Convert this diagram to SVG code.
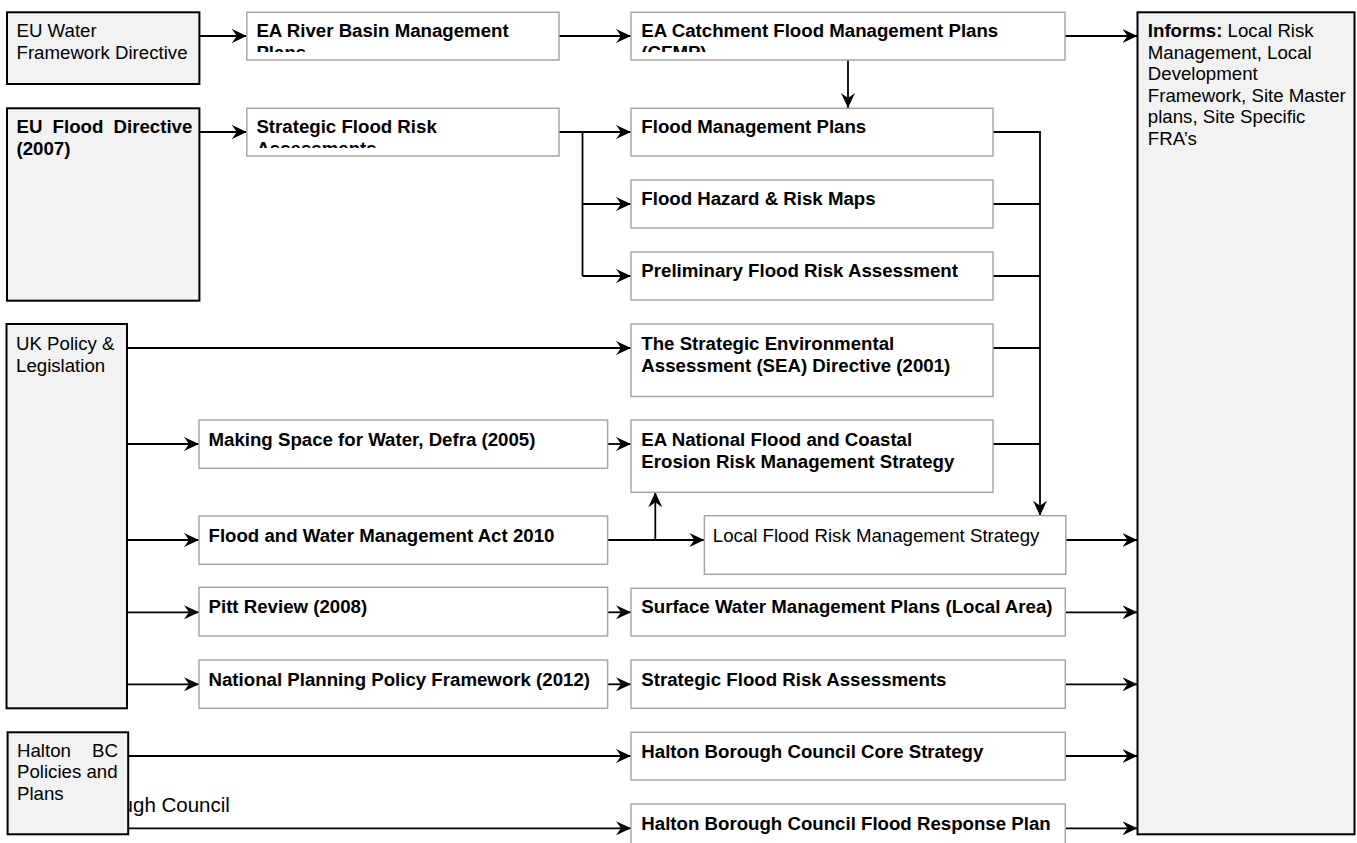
<svg xmlns="http://www.w3.org/2000/svg" width="1357" height="843" viewBox="0 0 1357 843">
<style>
  text { font-family: "Liberation Sans", Arial, sans-serif; font-size: 18.67px; fill: #000; }
  .b { font-weight: bold; }
  .big { font-size: 20.5px; }
  .dark { fill: #f2f2f2; stroke: #000; stroke-width: 2; }
  .box { fill: #fff; stroke: #a6a6a6; stroke-width: 1.5; }
  .ln { fill: none; stroke: #000; stroke-width: 1.8; }
  .ar { fill: none; stroke: #000; stroke-width: 1.8; marker-end: url(#arr); }
</style>
<defs>
  <marker id="arr" viewBox="0 0 15 14" refX="15" refY="7" markerWidth="15" markerHeight="14" markerUnits="userSpaceOnUse" orient="auto">
    <path d="M0,0 L15,7 L0,14 L5,7 z" fill="#000"/>
  </marker>
  <clipPath id="c1"><rect x="246" y="12" width="314" height="40"/></clipPath>
  <clipPath id="c2"><rect x="246" y="108" width="314" height="40"/></clipPath>
  <clipPath id="c3"><rect x="631" y="12" width="435" height="40"/></clipPath>
</defs>
<rect width="1357" height="843" fill="#fff"/>

<g id="halton-council-label">
  <text class="big" x="121.6" y="811.7">ugh Council</text>
</g>

<g id="connectors">
  <path class="ar" d="M199.4,36 H246.8"/>
  <path class="ar" d="M559,36 H631"/>
  <path class="ar" d="M1065,36 H1137.5"/>
  <path class="ar" d="M848,60 V108"/>
  <path class="ar" d="M199.4,132 H246.8"/>
  <path class="ar" d="M559,132 H631"/>
  <path class="ln" d="M582.5,132 V276"/>
  <path class="ar" d="M582.5,204 H631"/>
  <path class="ar" d="M582.5,276 H631"/>
  <path class="ln" d="M993,132 H1040"/>
  <path class="ln" d="M993,204 H1040"/>
  <path class="ln" d="M993,276 H1040"/>
  <path class="ln" d="M993,348 H1040"/>
  <path class="ln" d="M993,444 H1040"/>
  <path class="ar" d="M1040,131.1 V515.7"/>
  <path class="ar" d="M127,348 H631"/>
  <path class="ar" d="M127,444 H199"/>
  <path class="ar" d="M607.6,444 H631"/>
  <path class="ar" d="M127,540 H199"/>
  <path class="ar" d="M607.6,540 H704.4"/>
  <path class="ar" d="M655.3,540 V492.3"/>
  <path class="ar" d="M1066,540 H1137.5"/>
  <path class="ar" d="M127,612.3 H199"/>
  <path class="ar" d="M607.6,612.3 H631"/>
  <path class="ar" d="M1065,612.3 H1137.5"/>
  <path class="ar" d="M127,684.3 H199"/>
  <path class="ar" d="M607.6,684.3 H631"/>
  <path class="ar" d="M1065,684.3 H1137.5"/>
  <path class="ar" d="M128,756 H631"/>
  <path class="ar" d="M1065,756 H1137.5"/>
  <path class="ar" d="M128,828.3 H631"/>
  <path class="ar" d="M1065,828.3 H1137.5"/>
</g>

<g id="eu-water">
  <rect class="dark" x="7" y="12.3" width="192.4" height="71.7"/>
  <text x="16.5" y="37">EU Water</text>
  <text x="16.5" y="59">Framework Directive</text>
</g>
<g id="eu-flood">
  <rect class="dark" x="7" y="108.3" width="192.4" height="192.4"/>
  <text class="b" x="16.5" y="133" word-spacing="5">EU Flood Directive</text>
  <text class="b" x="16.5" y="155">(2007)</text>
</g>
<g id="uk-policy">
  <rect class="dark" x="6.5" y="324" width="120.5" height="384.3"/>
  <text x="16" y="350">UK Policy &amp;</text>
  <text x="16" y="371.7">Legislation</text>
</g>
<g id="halton-bc">
  <rect class="dark" x="7.6" y="732.3" width="120.6" height="102"/>
  <text x="17" y="756.7" word-spacing="16">Halton BC</text>
  <text x="17" y="778.3">Policies and</text>
  <text x="17" y="800">Plans</text>
</g>

<g id="ea-river-basin">
  <rect class="box" x="246.8" y="12.3" width="312.2" height="47.7"/>
  <g clip-path="url(#c1)">
    <text class="b" x="256.4" y="37">EA River Basin Management</text>
    <text class="b" x="256.4" y="58.5">Plans</text>
  </g>
</g>
<g id="sfra-top">
  <rect class="box" x="246.8" y="108.3" width="312.2" height="47.7"/>
  <g clip-path="url(#c2)">
    <text class="b" x="256.4" y="133">Strategic Flood Risk</text>
    <text class="b" x="256.4" y="154.5">Assessments</text>
  </g>
</g>
<g id="ea-cfmp">
  <rect class="box" x="631" y="12.3" width="434" height="47.7"/>
  <g clip-path="url(#c3)">
    <text class="b" x="641.3" y="37">EA Catchment Flood Management Plans</text>
    <text class="b" x="641.3" y="58.5">(CFMP)</text>
  </g>
</g>
<g id="flood-management-plans">
  <rect class="box" x="631" y="108.3" width="362" height="47.7"/>
  <text class="b" x="641.3" y="133.3">Flood Management Plans</text>
</g>
<g id="flood-hazard-maps">
  <rect class="box" x="631" y="180" width="362" height="48"/>
  <text class="b" x="641.3" y="205">Flood Hazard &amp; Risk Maps</text>
</g>
<g id="preliminary-fra">
  <rect class="box" x="631" y="252" width="362" height="48"/>
  <text class="b" x="641.3" y="277">Preliminary Flood Risk Assessment</text>
</g>
<g id="sea-directive">
  <rect class="box" x="631" y="324" width="362" height="72.5"/>
  <text class="b" x="641.3" y="350">The Strategic Environmental</text>
  <text class="b" x="641.3" y="371.7">Assessment (SEA) Directive (2001)</text>
</g>
<g id="making-space">
  <rect class="box" x="199" y="420" width="408.6" height="48.3"/>
  <text class="b" x="208.5" y="446">Making Space for Water, Defra (2005)</text>
</g>
<g id="ea-national">
  <rect class="box" x="631" y="420" width="362" height="72.3"/>
  <text class="b" x="641.3" y="446">EA National Flood and Coastal</text>
  <text class="b" x="641.3" y="467.7">Erosion Risk Management Strategy</text>
</g>
<g id="fwma">
  <rect class="box" x="199" y="516" width="408.6" height="48.3"/>
  <text class="b" x="208.5" y="541.7">Flood and Water Management Act 2010</text>
</g>
<g id="local-flood-strategy">
  <rect class="box" x="704.4" y="515.7" width="361.4" height="58.6"/>
  <text x="712.8" y="541.7">Local Flood Risk Management Strategy</text>
</g>
<g id="pitt-review">
  <rect class="box" x="199" y="587.3" width="408.6" height="48.7"/>
  <text class="b" x="208.5" y="613.3">Pitt Review (2008)</text>
</g>
<g id="swmp">
  <rect class="box" x="631" y="588.3" width="434.3" height="47.7"/>
  <text class="b" x="641.3" y="613.3">Surface Water Management Plans (Local Area)</text>
</g>
<g id="nppf">
  <rect class="box" x="199" y="660" width="408.6" height="48.3"/>
  <text class="b" x="208.5" y="686">National Planning Policy Framework (2012)</text>
</g>
<g id="sfra-bottom">
  <rect class="box" x="631" y="660" width="434.3" height="48.3"/>
  <text class="b" x="641.3" y="686">Strategic Flood Risk Assessments</text>
</g>
<g id="halton-core-strategy">
  <rect class="box" x="631" y="732.3" width="434.3" height="47.7"/>
  <text class="b" x="641.3" y="758">Halton Borough Council Core Strategy</text>
</g>
<g id="halton-flood-response">
  <rect class="box" x="631" y="804" width="434.3" height="72"/>
  <text class="b" x="641.3" y="830">Halton Borough Council Flood Response Plan</text>
</g>

<g id="informs">
  <rect class="dark" x="1137.5" y="12.3" width="217" height="822"/>
  <text x="1147.8" y="37.3"><tspan class="b">Informs:</tspan> Local Risk</text>
  <text x="1147.8" y="58.8">Management, Local</text>
  <text x="1147.8" y="80.3">Development</text>
  <text x="1147.8" y="101.8">Framework, Site Master</text>
  <text x="1147.8" y="123.3">plans, Site Specific</text>
  <text x="1147.8" y="144.8">FRA’s</text>
</g>
</svg>
